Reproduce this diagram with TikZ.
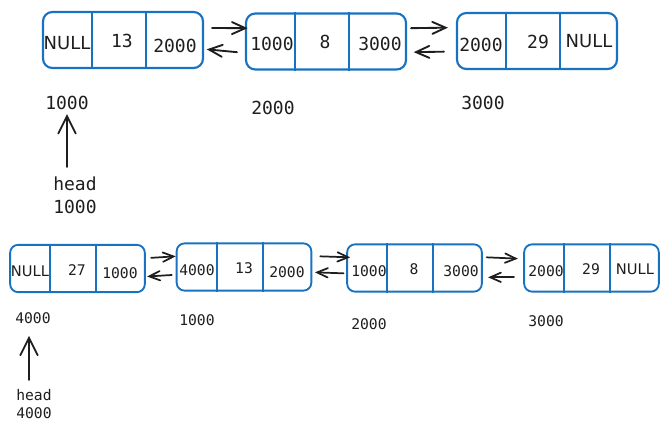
\documentclass[tikz,border=0pt]{standalone}
\usepackage{fontspec}
\setmainfont{DejaVu Sans}
\setmonofont{DejaVu Sans Mono}
\usetikzlibrary{positioning, arrows.meta}

\definecolor{boxblue}{HTML}{1971C2}
\definecolor{ink}{HTML}{1E1E1E}

\tikzset{
    bigbox/.style={draw=boxblue, line width=1.6pt, rounded corners=7pt, minimum width=120pt, minimum height=42pt, inner sep=0pt},
    smallbox/.style={draw=boxblue, line width=1.4pt, rounded corners=6pt, minimum width=101pt, minimum height=35.5pt, inner sep=0pt},
    divider/.style={draw=boxblue, line width=1.4pt},
    bigtxt/.style={text=ink, font=\ttfamily\fontsize{13.5}{16}\selectfont, inner sep=0pt},
    smalltxt/.style={text=ink, font=\ttfamily\fontsize{11}{13}\selectfont, inner sep=0pt},
    bignull/.style={text=ink, font=\fontsize{13.5}{16}\selectfont, inner sep=0pt},
    smallnull/.style={text=ink, font=\fontsize{11}{13}\selectfont, inner sep=0pt},
    link/.style={draw=ink, line width=1.4pt, line cap=round, -{Straight Barb[length=10pt, width=9pt, line cap=round]}},
    smalllink/.style={draw=ink, line width=1.3pt, line cap=round, -{Straight Barb[length=8pt, width=7pt, line cap=round]}},
    headlink/.style={draw=ink, line width=1.4pt, line cap=round, -{Straight Barb[length=13pt, width=13pt, line cap=round]}}
}

\begin{document}
\begin{tikzpicture}[x=0.75pt, y=-0.75pt]
    \useasboundingbox (0,0) rectangle (669,432);

    % first list
    \node (t1) [bigbox] at (123,40) {};
    \node (t2) [bigbox] at (326,41.5) {};
    \node (t3) [bigbox] at (537,41) {};
    \foreach \b in {t1,t2,t3} {
        \draw [divider] ([xshift=37.5pt]\b.north west) -- ([xshift=37.5pt]\b.south west);
        \draw [divider] ([xshift=78pt]\b.north west) -- ([xshift=78pt]\b.south west);
    }
    \node (t1a) [bignull] at (67,43) {NULL};
    \node (t1b) [bigtxt] at (122,41) {13};
    \node (t1c) [bigtxt] at (175,46) {2000};
    \node (t2a) [bigtxt] at (272,44) {1000};
    \node (t2b) [bigtxt] at (325,42) {8};
    \node (t2c) [bigtxt] at (380,44) {3000};
    \node (t3a) [bigtxt] at (481,45) {2000};
    \node (t3b) [bigtxt] at (538,42) {29};
    \node (t3c) [bignull] at (589,41) {NULL};

    \draw [link] ([xshift=6pt, yshift=9pt]t1.east) -- ([xshift=2pt, yshift=10pt]t2.west);
    \draw [link] ([xshift=-6pt, yshift=-8pt]t2.west) -- ([xshift=2pt, yshift=-7pt]t1.east);
    \draw [link] ([xshift=3pt, yshift=10pt]t2.east) -- ([xshift=-6pt, yshift=10pt]t3.west);
    \draw [link] ([xshift=-9pt, yshift=-8pt]t3.west) -- ([xshift=5pt, yshift=-8pt]t2.east);

    \node (t1addr) [bigtxt] at (67,103) {1000};
    \node (t2addr) [bigtxt] at (273,108) {2000};
    \node (t3addr) [bigtxt] at (483,103) {3000};
    \node (head1) [bigtxt, align=left] at (75,195) {head\\[1pt]1000};
    \coordinate (h1) at (67,167);
    \draw [headlink] (h1) -- ([yshift=-3pt]t1addr.south -| h1);

    % second list
    \node (s1) [smallbox] at (77.5,268.5) {};
    \node (s2) [smallbox] at (244,267) {};
    \node (s3) [smallbox] at (414.5,268) {};
    \node (s4) [smallbox] at (591.5,268) {};
    \foreach \b in {s1,s2,s3,s4} {
        \draw [divider] ([xshift=30.75pt]\b.north west) -- ([xshift=30.75pt]\b.south west);
        \draw [divider] ([xshift=65.25pt]\b.north west) -- ([xshift=65.25pt]\b.south west);
    }
    \node (s1a) [smallnull] at (30,271) {NULL};
    \node (s1b) [smalltxt] at (77,270) {27};
    \node (s1c) [smalltxt] at (120,273) {1000};
    \node (s2a) [smalltxt] at (197,270) {4000};
    \node (s2b) [smalltxt] at (244,268) {13};
    \node (s2c) [smalltxt] at (287,272) {2000};
    \node (s3a) [smalltxt] at (369,271) {1000};
    \node (s3b) [smalltxt] at (414,269) {8};
    \node (s3c) [smalltxt] at (461,271) {3000};
    \node (s4a) [smalltxt] at (546,271) {2000};
    \node (s4b) [smalltxt] at (591,269) {29};
    \node (s4c) [smallnull] at (635,269) {NULL};

    \draw [smalllink] ([xshift=4pt, yshift=8pt]s1.east) -- ([xshift=0pt, yshift=8pt]s2.west);
    \draw [smalllink] ([xshift=-3pt, yshift=-6pt]s2.west) -- ([xshift=1pt, yshift=-6pt]s1.east);
    \draw [smalllink] ([xshift=6pt, yshift=8pt]s2.east) -- ([xshift=3pt, yshift=8pt]s3.west);
    \draw [smalllink] ([xshift=-2pt, yshift=-4pt]s3.west) -- ([xshift=2pt, yshift=-4pt]s2.east);
    \draw [smalllink] ([xshift=3pt, yshift=8pt]s3.east) -- ([xshift=-4pt, yshift=7pt]s4.west);
    \draw [smalllink] ([xshift=-7pt, yshift=-7pt]s4.west) -- ([xshift=4pt, yshift=-7pt]s3.east);

    \node (s1addr) [smalltxt] at (33,318) {4000};
    \node (s2addr) [smalltxt] at (197,320) {1000};
    \node (s3addr) [smalltxt] at (369,324) {2000};
    \node (s4addr) [smalltxt] at (546,321) {3000};
    \node (head2) [smalltxt, align=left] at (34,404) {head\\[1pt]4000};
    \coordinate (h2) at (29,380);
    \draw [headlink] (h2) -- ([yshift=-9pt]s1addr.south -| h2);
\end{tikzpicture}
\end{document}
